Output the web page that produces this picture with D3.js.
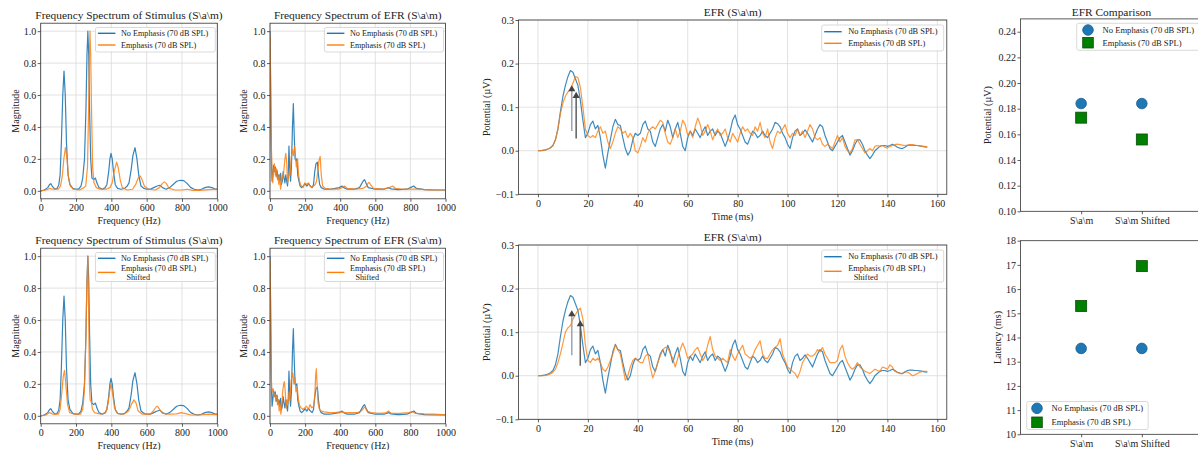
<!DOCTYPE html>
<html>
<head>
<meta charset="utf-8">
<script src="https://cdn.jsdelivr.net/npm/d3@7"></script>
<style>
  body { margin: 0; background: #fff; }
  svg { display: block; }
</style>
</head>
<body>
<svg id="fig" width="1198" height="450"></svg>
<script>
// ---------- data ----------
const seriesLabels = ["No Emphasis (70 dB SPL)", "Emphasis (70 dB SPL)"];
const shiftedNote = "Shifted";
const categories = ["S\\a\\m", "S\\a\\m Shifted"];

// comparison values per category
const potentialNoEmph = [0.184, 0.184];
const potentialEmph = [0.173, 0.156];
const latencyNoEmph = [13.55, 13.55];
const latencyEmph = [15.3, 16.95];

// peak markers on EFR traces: [latency ms, marker level, stem bottom]
const peaksTop = [[latencyNoEmph[0], 0.141, 0.045], [latencyEmph[0], 0.126, 0.028]];
const peaksBottom = [[latencyNoEmph[1], 0.141, 0.047], [latencyEmph[1], 0.118, 0.023]];

// tick labels
const freqTicks = [0, 200, 400, 600, 800, 1000];
const magTicks = [0, 0.2, 0.4, 0.6, 0.8, 1.0];
const timeTicks = [0, 20, 40, 60, 80, 100, 120, 140, 160];
const potTicks = [-0.1, 0, 0.1, 0.2, 0.3];
const cmpPotTicks = [0.10, 0.12, 0.14, 0.16, 0.18, 0.20, 0.22, 0.24];
const latTicks = [10, 11, 12, 13, 14, 15, 16, 17, 18];

// stimulus spectra [Hz, magnitude]
const stimNoEmph = [[0,0],[20,0.005],[40,0.02],[50,0.04],[57,0.045],[65,0.03],[80,0.01],[92,0.015],[102,0.035],[110,0.1],[117,0.3],[125,0.6],[132,0.75],[139,0.6],[146,0.3],[155,0.1],[165,0.04],[182,0.015],[200,0.01],[215,0.01],[228,0.03],[238,0.08],[248,0.2],[256,0.5],[262,0.85],[267,1.0],[272,0.85],[277,0.5],[283,0.2],[290,0.08],[300,0.07],[310,0.08],[318,0.05],[330,0.02],[350,0.01],[365,0.02],[375,0.04],[385,0.12],[392,0.2],[398,0.234],[405,0.2],[412,0.12],[422,0.04],[435,0.015],[455,0.01],[475,0.015],[490,0.03],[500,0.05],[512,0.13],[522,0.22],[534,0.27],[545,0.2],[555,0.1],[568,0.03],[585,0.015],[600,0.01],[620,0.01],[640,0.02],[660,0.03],[675,0.035],[690,0.02],[710,0.01],[730,0.02],[750,0.04],[770,0.06],[790,0.066],[810,0.064],[830,0.045],[850,0.02],[870,0.01],[890,0.005],[910,0.01],[930,0.02],[950,0.025],[970,0.02],[990,0.01],[1000,0.01]];
const stimEmph = [[0,0],[30,0.005],[50,0.015],[70,0.01],[100,0.01],[112,0.03],[122,0.09],[131,0.2],[140,0.27],[149,0.2],[158,0.08],[168,0.03],[185,0.01],[220,0.005],[245,0.02],[255,0.03],[265,0.15],[271,0.5],[276,0.85],[279,1.0],[283,0.85],[288,0.5],[294,0.15],[302,0.05],[315,0.02],[335,0.01],[370,0.01],[392,0.02],[405,0.05],[416,0.12],[430,0.18],[440,0.14],[450,0.07],[462,0.02],[490,0.005],[520,0.01],[538,0.04],[552,0.08],[562,0.094],[572,0.075],[587,0.03],[610,0.01],[650,0.005],[672,0.02],[688,0.045],[700,0.056],[712,0.045],[727,0.015],[760,0.005],[800,0.005],[830,0.01],[860,0.003],[900,0.003],[950,0.008],[1000,0.01]];
const stimEmphShifted = [[0,0],[30,0.005],[50,0.02],[70,0.01],[100,0.01],[110,0.04],[120,0.15],[128,0.25],[135,0.285],[142,0.2],[152,0.07],[164,0.02],[190,0.01],[225,0.01],[238,0.04],[247,0.15],[255,0.45],[261,0.8],[267,1.0],[272,0.6],[276,0.2],[280,0.1],[286,0.09],[293,0.04],[305,0.02],[340,0.01],[368,0.02],[382,0.08],[391,0.16],[399,0.2],[407,0.14],[418,0.05],[435,0.015],[470,0.01],[498,0.03],[513,0.07],[528,0.1],[540,0.08],[552,0.03],[575,0.01],[620,0.01],[638,0.03],[653,0.055],[662,0.06],[673,0.04],[690,0.015],[730,0.01],[770,0.012],[795,0.02],[815,0.015],[850,0.005],[900,0.005],[950,0.01],[1000,0.008]];

// EFR spectra [Hz, magnitude]
const efrSpecNoEmph = [[0,1.0],[3,0.75],[6,0.4],[9,0.15],[12,0.06],[16,0.1],[20,0.16],[25,0.12],[30,0.15],[35,0.09],[40,0.13],[45,0.07],[50,0.1],[55,0.06],[60,0.11],[65,0.04],[70,0.06],[75,0.12],[80,0.08],[85,0.05],[90,0.1],[95,0.06],[100,0.03],[104,0.1],[108,0.28],[112,0.15],[117,0.06],[122,0.15],[128,0.4],[133,0.546],[138,0.35],[143,0.2],[148,0.19],[153,0.2],[158,0.1],[165,0.06],[172,0.03],[180,0.02],[190,0.03],[200,0.045],[210,0.03],[220,0.045],[230,0.03],[240,0.02],[248,0.04],[255,0.12],[262,0.17],[270,0.18],[276,0.1],[283,0.04],[292,0.02],[310,0.01],[340,0.01],[370,0.015],[395,0.02],[410,0.03],[420,0.02],[440,0.01],[480,0.01],[510,0.02],[530,0.06],[539,0.07],[548,0.045],[560,0.02],[600,0.01],[650,0.01],[676,0.02],[690,0.012],[730,0.008],[780,0.01],[800,0.02],[819,0.03],[835,0.015],[880,0.008],[950,0.005],[1000,0.005]];
const efrSpecEmph = [[0,0.98],[3,0.7],[6,0.35],[9,0.23],[12,0.1],[16,0.05],[20,0.12],[25,0.17],[30,0.1],[35,0.14],[40,0.08],[45,0.1],[50,0.04],[55,0.1],[60,0.01],[65,0.05],[70,0.1],[75,0.08],[80,0.14],[85,0.2],[90,0.235],[95,0.18],[100,0.05],[105,0.08],[110,0.12],[115,0.1],[120,0.2],[127,0.26],[133,0.22],[140,0.28],[145,0.22],[150,0.15],[157,0.2],[163,0.1],[170,0.05],[178,0.03],[188,0.02],[198,0.05],[208,0.04],[218,0.05],[228,0.03],[238,0.02],[248,0.03],[258,0.04],[265,0.06],[272,0.12],[279,0.19],[286,0.215],[292,0.1],[300,0.03],[315,0.015],[350,0.01],[390,0.01],[410,0.02],[425,0.03],[440,0.015],[490,0.01],[530,0.015],[550,0.03],[560,0.05],[566,0.052],[575,0.035],[590,0.015],[640,0.01],[680,0.02],[699,0.03],[715,0.015],[760,0.01],[800,0.01],[850,0.01],[900,0.006],[1000,0.005]];
const efrSpecEmphShifted = [[0,0.98],[3,0.7],[6,0.35],[9,0.18],[13,0.15],[18,0.17],[22,0.12],[28,0.14],[33,0.1],[38,0.12],[43,0.07],[48,0.1],[52,0.03],[57,0.08],[62,0.01],[67,0.05],[72,0.15],[78,0.2],[82,0.215],[87,0.15],[92,0.05],[97,0.1],[103,0.08],[108,0.15],[114,0.1],[120,0.22],[126,0.25],[130,0.27],[136,0.2],[142,0.24],[148,0.15],[155,0.18],[162,0.1],[170,0.06],[178,0.05],[188,0.04],[198,0.05],[208,0.06],[218,0.04],[228,0.07],[238,0.05],[248,0.06],[255,0.12],[260,0.25],[264,0.295],[268,0.2],[274,0.08],[282,0.04],[292,0.03],[310,0.025],[340,0.02],[370,0.02],[400,0.025],[430,0.02],[460,0.02],[500,0.02],[520,0.03],[535,0.05],[542,0.055],[552,0.03],[575,0.02],[620,0.015],[660,0.018],[675,0.03],[690,0.015],[740,0.015],[790,0.02],[810,0.025],[830,0.015],[880,0.012],[940,0.01],[1000,0.006]];

// EFR waveforms, one sample per ms from 0 to 156 ms (µV)
const efrNoEmph = [
  0, 0, 0.001, 0.002, 0.004, 0.007, 0.012, 0.025, 0.05, 0.09,
  0.125, 0.15, 0.17, 0.184, 0.18, 0.165, 0.15, 0.115, 0.07, 0.03,
  0.04, 0.06, 0.068, 0.05, 0.058, 0.03, -0.01, -0.04, -0.005, 0.025,
  0.055, 0.072, 0.06, 0.058, 0.03, 0.005, -0.01, 0.0, 0.025, 0.04,
  0.035, 0.04, 0.06, 0.068, 0.05, 0.045, 0.02, 0.01, 0.03, 0.05,
  0.06, 0.045, 0.07, 0.055, 0.03, 0.05, 0.065, 0.04, 0.01, 0.0,
  0.03, 0.045, 0.035, 0.05, 0.04, 0.03, 0.045, 0.055, 0.035, 0.045,
  0.05, 0.035, 0.045, 0.04, 0.025, 0.01, 0.025, 0.045, 0.07, 0.082,
  0.06, 0.05, 0.035, 0.02, 0.015, 0.03, 0.045, 0.04, 0.03, 0.035,
  0.045, 0.035, 0.03, 0.04, 0.05, 0.065, 0.062, 0.055, 0.04, 0.03,
  0.015, 0.005, 0.03, 0.045, 0.05, 0.035, 0.04, 0.048, 0.04, 0.03,
  0.02, 0.035, 0.05, 0.06, 0.055, 0.035, 0.02, 0.005, 0.0, 0.01,
  0.02, 0.03, 0.035, 0.02, 0.005, -0.01, 0.0, 0.015, 0.025, 0.025,
  0.015, 0.0, -0.01, -0.018, -0.01, 0.0, 0.005, 0.01, 0.012, 0.012,
  0.01, 0.012, 0.015, 0.012, 0.008, 0.006, 0.005, 0.008, 0.012, 0.013,
  0.013, 0.012, 0.012, 0.011, 0.01, 0.009, 0.008
];
const efrEmph = [
  0, 0, 0.001, 0.002, 0.004, 0.007, 0.012, 0.025, 0.05, 0.085,
  0.11, 0.125, 0.135, 0.14, 0.155, 0.17, 0.168, 0.145, 0.1, 0.05,
  0.035, 0.03, 0.035, 0.03, 0.045, 0.055, 0.04, 0.045, 0.02, 0.005,
  0.02, 0.04, 0.055, 0.05, 0.04, 0.045, 0.03, 0.04, 0.03, 0.0,
  -0.005, 0.01, 0.03, 0.02, 0.04, 0.05, 0.055, 0.05, 0.06, 0.07,
  0.065, 0.04, 0.02, 0.015, 0.03, 0.05, 0.03, 0.045, 0.07, 0.06,
  0.035, 0.045, 0.03, 0.055, 0.075, 0.06, 0.035, 0.045, 0.06, 0.045,
  0.025, 0.04, 0.05, 0.035, 0.04, 0.05, 0.03, 0.02, 0.04, 0.03,
  0.02, 0.04, 0.055, 0.045, 0.05, 0.04, 0.035, 0.055, 0.045, 0.065,
  0.04, 0.03, 0.05, 0.02, 0.005, 0.03, 0.045, 0.04, 0.05, 0.06,
  0.04, 0.03, 0.04, 0.035, 0.05, 0.035, 0.045, 0.03, 0.045, 0.06,
  0.05, 0.03, 0.025, 0.03, 0.015, 0.01, 0.015, 0.01, 0.005, 0.02,
  0.035, 0.02, 0.03, 0.01, 0.0, -0.005, 0.005, 0.025, 0.025, 0.015,
  0.005, -0.005, 0.0, 0.005, 0.0, 0.01, 0.012, 0.01, 0.012, 0.008,
  0.006, 0.01, 0.012, 0.014, 0.015, 0.014, 0.013, 0.012, 0.013, 0.014,
  0.014, 0.013, 0.012, 0.011, 0.01, 0.01, 0.009
];
const efrEmphShifted = [
  0, 0, 0.0, 0.001, 0.002, 0.004, 0.008, 0.015, 0.03, 0.05,
  0.075, 0.1, 0.11, 0.115, 0.13, 0.14, 0.15, 0.155, 0.13, 0.07,
  0.035, 0.03, 0.04, 0.035, 0.04, 0.03, 0.015, 0.01, 0.02, 0.035,
  0.05, 0.07, 0.06, 0.05, 0.02, -0.01, 0.0, 0.02, 0.035, 0.04,
  0.035, 0.03, 0.03, 0.045, 0.05, 0.02, -0.005, 0.01, 0.03, 0.045,
  0.06, 0.065, 0.065, 0.05, 0.04, 0.02, 0.04, 0.06, 0.075, 0.06,
  0.04, 0.045, 0.05, 0.06, 0.065, 0.05, 0.035, 0.045, 0.07, 0.09,
  0.06, 0.045, 0.04, 0.035, 0.04, 0.035, 0.03, 0.06, 0.045, 0.035,
  0.05, 0.06, 0.07, 0.05, 0.045, 0.04, 0.045, 0.06, 0.07, 0.08,
  0.05, 0.04, 0.04, 0.05, 0.06, 0.065, 0.07, 0.085, 0.05, 0.035,
  0.02, 0.015, 0.01, 0.005, -0.005, 0.01, 0.03, 0.04, 0.05, 0.045,
  0.045, 0.05, 0.06, 0.055, 0.065, 0.05, 0.04, 0.03, 0.03, 0.03,
  0.035, 0.06, 0.07, 0.045, 0.03, 0.02, 0.015, 0.02, 0.03, 0.02,
  0.015, 0.01, 0.008, 0.005, 0.01, 0.015, 0.012, 0.01, 0.02, 0.018,
  0.015, 0.025, 0.02, 0.01, 0.008, 0.005, 0.005, 0.01, 0.008, 0.005,
  0.0, 0.002, 0.005, 0.008, 0.01, 0.01, 0.01
];

// ---------- drawing ----------
const FONT = "'Liberation Serif', 'DejaVu Serif', serif";
const INK = "#222";
const BLUE = "#1f77b4", ORANGE = "#ff7f0e", GREEN = "#008000";
const svg = d3.select("#fig");
svg.append("rect").attr("width", 1198).attr("height", 450).attr("fill", "#fff");
let clipCount = 0;

function makeAxes(c) {
  const x = d3.scaleLinear().domain(c.xDomain).range([c.l, c.r]);
  const y = d3.scaleLinear().domain(c.yDomain).range([c.b, c.t]);
  const g = svg.append("g");
  if (c.grid) {
    const gg = g.append("g").attr("stroke", "#dadada").attr("stroke-width", 0.8);
    gg.selectAll("line.gx").data(c.xTicks).join("line").attr("class", "gx")
      .attr("x1", d => x(d)).attr("x2", d => x(d)).attr("y1", c.t).attr("y2", c.b);
    gg.selectAll("line.gy").data(c.yTicks).join("line").attr("class", "gy")
      .attr("y1", d => y(d)).attr("y2", d => y(d)).attr("x1", c.l).attr("x2", c.r);
  }
  const id = "clip" + (clipCount++);
  g.append("clipPath").attr("id", id).append("rect")
    .attr("x", c.l).attr("y", c.t).attr("width", c.r - c.l).attr("height", c.b - c.t);
  const plot = g.append("g").attr("clip-path", `url(#${id})`);

  const xAxis = c.xAxis || d3.axisBottom(x).tickValues(c.xTicks).tickFormat(c.xFmt);
  const xa = g.append("g").attr("transform", `translate(0,${c.b})`)
    .call(xAxis.tickSize(3).tickPadding(2.5));
  const ya = g.append("g").attr("transform", `translate(${c.l},0)`)
    .call(d3.axisLeft(y).tickValues(c.yTicks).tickFormat(c.yFmt).tickSize(3).tickPadding(1.5));
  [xa, ya].forEach(a => {
    a.select(".domain").remove();
    a.attr("font-family", FONT).attr("font-size", 10);
    a.selectAll("text").attr("fill", INK);
    a.selectAll("line").attr("stroke", "#333").attr("stroke-width", 0.8);
  });

  if (c.title) {
    g.append("text").attr("x", (c.l + Math.min(c.r, c.titleRight || c.r)) / 2).attr("y", c.titleY)
      .attr("text-anchor", "middle").attr("font-family", FONT).attr("font-size", 11.4)
      .attr("fill", INK).text(c.title);
  }
  if (c.xlabel) {
    g.append("text").attr("x", (c.l + c.r) / 2).attr("y", c.xlabelY)
      .attr("text-anchor", "middle").attr("dominant-baseline", "central")
      .attr("font-family", FONT).attr("font-size", 10).attr("fill", INK).text(c.xlabel);
  }
  if (c.ylabel) {
    g.append("text").attr("transform", `translate(${c.ylabelX},${(c.t + c.b) / 2}) rotate(-90)`)
      .attr("text-anchor", "middle").attr("dominant-baseline", "central")
      .attr("font-family", FONT).attr("font-size", 10).attr("fill", INK).text(c.ylabel);
  }
  const frame = () => g.append("rect").attr("x", c.l).attr("y", c.t)
    .attr("width", c.r - c.l).attr("height", c.b - c.t)
    .attr("fill", "none").attr("stroke", "#333").attr("stroke-width", 0.8);
  return { g, x, y, plot, frame };
}

function drawLine(ax, pts, color, width, opacity) {
  ax.plot.append("path").datum(pts)
    .attr("d", d3.line().x(d => ax.x(d[0])).y(d => ax.y(d[1])))
    .attr("fill", "none").attr("stroke", color).attr("stroke-width", width)
    .attr("stroke-opacity", opacity).attr("stroke-linejoin", "round");
}

// legend: rows = [{label, extra, kind, color, edge}]
function drawLegend(g, box, rows) {
  g.append("rect").attr("x", box.x).attr("y", box.y).attr("width", box.w).attr("height", box.h)
    .attr("rx", 2).attr("fill", "#fff").attr("fill-opacity", 0.85)
    .attr("stroke", "#cfcfcf").attr("stroke-width", 0.8);
  rows.forEach(r => {
    if (r.kind === "line") {
      g.append("line").attr("x1", box.hx0).attr("x2", box.hx1).attr("y1", r.hy).attr("y2", r.hy)
        .attr("stroke", r.color).attr("stroke-width", 1.4);
    } else if (r.kind === "circle") {
      g.append("circle").attr("cx", box.hx0).attr("cy", r.hy).attr("r", 5.3)
        .attr("fill", r.color).attr("stroke", r.edge).attr("stroke-width", 0.8);
    } else {
      g.append("rect").attr("x", box.hx0 - 5.3).attr("y", r.hy - 5.3).attr("width", 10.6).attr("height", 10.6)
        .attr("fill", r.color).attr("stroke", r.edge).attr("stroke-width", 0.8);
    }
    g.append("text").attr("x", box.tx).attr("y", r.ty).attr("dominant-baseline", "central")
      .attr("font-family", FONT).attr("font-size", box.fs).attr("fill", INK).text(r.label);
    if (r.extra) {
      g.append("text").attr("x", box.tx + 5.5).attr("y", r.ty + 8.8).attr("dominant-baseline", "central")
        .attr("font-family", FONT).attr("font-size", box.fs).attr("fill", INK).text(r.extra);
    }
  });
}

const fmt1 = d3.format(".1f");
const fmtMinus = d => (d < 0 ? "\u2212" : "") + fmt1(Math.abs(d));
const timeAxis = d3.range(efrNoEmph.length);

function spectrumPanel(l, r, dy, title, blue, orange, shifted, ylabelX) {
  const ax = makeAxes({
    l, r, t: 23.2 + dy, b: 198.8 + dy, xDomain: [0, 1000], yDomain: [-0.05, 1.05],
    xTicks: freqTicks, yTicks: magTicks, xFmt: d3.format("d"), yFmt: fmt1, grid: true,
    title, titleY: 19 + dy, xlabel: "Frequency (Hz)", xlabelY: 220 + dy,
    ylabel: "Magnitude", ylabelX
  });
  drawLine(ax, blue, BLUE, 1.2, 0.9);
  drawLine(ax, orange, ORANGE, 1.2, 0.85);
  ax.frame();
  const lx = ax.x(310), w = r - 2 - lx;
  const rows = shifted
    ? [{ label: seriesLabels[0], kind: "line", color: BLUE, hy: 33.3 + dy, ty: 33.3 + dy },
       { label: seriesLabels[1], extra: shiftedNote, kind: "line", color: ORANGE, hy: 47.4 + dy, ty: 43.2 + dy }]
    : [{ label: seriesLabels[0], kind: "line", color: BLUE, hy: 33.3 + dy, ty: 33.3 + dy },
       { label: seriesLabels[1], kind: "line", color: ORANGE, hy: 45 + dy, ty: 45 + dy }];
  drawLegend(ax.g, { x: lx, y: 27.5 + dy, w, h: shifted ? 29 : 24.5, hx0: lx + 2.5, hx1: lx + 20, tx: lx + 25.5, fs: 8.2 }, rows);
}

spectrumPanel(40.7, 217.3, 0, "Frequency Spectrum of Stimulus (S\\a\\m)", stimNoEmph, stimEmph, false, 15);
spectrumPanel(270, 445.5, 0, "Frequency Spectrum of EFR (S\\a\\m)", efrSpecNoEmph, efrSpecEmph, false, 243);
spectrumPanel(40.7, 217.3, 225, "Frequency Spectrum of Stimulus (S\\a\\m)", stimNoEmph, stimEmphShifted, true, 15);
spectrumPanel(270, 445.5, 225, "Frequency Spectrum of EFR (S\\a\\m)", efrSpecNoEmph, efrSpecEmphShifted, true, 243);

function efrPanel(dy, orangeVals, peaks, shifted) {
  const ax = makeAxes({
    l: 518.5, r: 946.8, t: 20 + dy, b: 194.3 + dy, xDomain: [-7.8, 163.8], yDomain: [-0.1, 0.3],
    xTicks: timeTicks, yTicks: potTicks, xFmt: d3.format("d"), yFmt: fmtMinus, grid: true,
    title: "EFR (S\\a\\m)", titleY: 16 + dy, xlabel: "Time (ms)", xlabelY: 216 + dy,
    ylabel: "Potential (\u00b5V)", ylabelX: 486.7
  });
  drawLine(ax, timeAxis.map((t, i) => [t, efrNoEmph[i]]), BLUE, 1.2, 0.85);
  drawLine(ax, timeAxis.map((t, i) => [t, orangeVals[i]]), ORANGE, 1.2, 0.8);
  const stemColors = ["#9aa6b0", "#5e5e5e"];
  peaks.forEach((p, i) => {
    ax.plot.append("line").attr("x1", ax.x(p[0])).attr("x2", ax.x(p[0]))
      .attr("y1", ax.y(p[2])).attr("y2", ax.y(p[1]))
      .attr("stroke", stemColors[i]).attr("stroke-width", 1.5);
  });
  peaks.forEach(p => {
    ax.plot.append("path")
      .attr("d", d3.symbol(d3.symbolTriangle, 22)())
      .attr("transform", `translate(${ax.x(p[0])},${ax.y(p[1])})`)
      .attr("fill", "#444");
  });
  ax.frame();
  const lx = 821.7;
  const rows = shifted
    ? [{ label: seriesLabels[0], kind: "line", color: BLUE, hy: 31.7 + dy, ty: 31.7 + dy },
       { label: seriesLabels[1], extra: shiftedNote, kind: "line", color: ORANGE, hy: 46.3 + dy, ty: 43.3 + dy }]
    : [{ label: seriesLabels[0], kind: "line", color: BLUE, hy: 31.7 + dy, ty: 31.7 + dy },
       { label: seriesLabels[1], kind: "line", color: ORANGE, hy: 43.3 + dy, ty: 43.3 + dy }];
  drawLegend(ax.g, { x: lx, y: 25 + dy, w: 122, h: shifted ? 32 : 26, hx0: lx + 2.5, hx1: lx + 20, tx: lx + 26.5, fs: 8.4 }, rows);
}

efrPanel(0, efrEmph, peaksTop, false);
efrPanel(225, efrEmphShifted, peaksBottom, true);

function comparisonPanel(t, b, yDomain, yTicks, yFmt, ylabel, ylabelX, noEmph, emph, title, legendBox, legendRowsY) {
  const x = d3.scaleLinear().domain([-1, 2]).range([1020.5, 1202.5]);
  const ax = makeAxes({
    l: 1020.5, r: 1202.5, t, b, xDomain: [-1, 2], yDomain,
    xTicks: [0, 1], yTicks, yFmt, grid: false,
    xAxis: d3.axisBottom(x).tickValues([0, 1]).tickFormat(i => categories[i]),
    title, titleY: t - 3, titleRight: 1202.5,
    ylabel, ylabelX
  });
  ax.plot.selectAll("circle.pt").data(noEmph).join("circle").attr("class", "pt")
    .attr("cx", (d, i) => ax.x(i)).attr("cy", d => ax.y(d)).attr("r", 5.3)
    .attr("fill", BLUE).attr("stroke", "#1a5f8f").attr("stroke-width", 0.8);
  ax.plot.selectAll("rect.pt").data(emph).join("rect").attr("class", "pt")
    .attr("x", (d, i) => ax.x(i) - 5.5).attr("y", d => ax.y(d) - 5.5)
    .attr("width", 11).attr("height", 11)
    .attr("fill", GREEN).attr("stroke", "#0b4d0b").attr("stroke-width", 0.8);
  ax.frame();
  drawLegend(ax.g, legendBox, [
    { label: seriesLabels[0], kind: "circle", color: BLUE, edge: "#1a5f8f", hy: legendRowsY[0], ty: legendRowsY[0] },
    { label: seriesLabels[1], kind: "square", color: GREEN, edge: "#0b4d0b", hy: legendRowsY[1], ty: legendRowsY[1] }
  ]);
}

comparisonPanel(18.9, 211.3, [0.10, 0.25], cmpPotTicks, d3.format(".2f"), "Potential (\u00b5V)", 987,
  potentialNoEmph, potentialEmph, "EFR Comparison",
  { x: 1076.7, y: 23.3, w: 130, h: 27, hx0: 1088, tx: 1102.5, fs: 8.6 }, [30, 42.7]);
comparisonPanel(240.7, 434.3, [10, 18], latTicks, d3.format("d"), "Latency (ms)", 997,
  latencyNoEmph, latencyEmph, null,
  { x: 1026.7, y: 401.5, w: 121.5, h: 28, hx0: 1037, tx: 1051.5, fs: 8.6 }, [408.3, 422.3]);
</script>
</body>
</html>
